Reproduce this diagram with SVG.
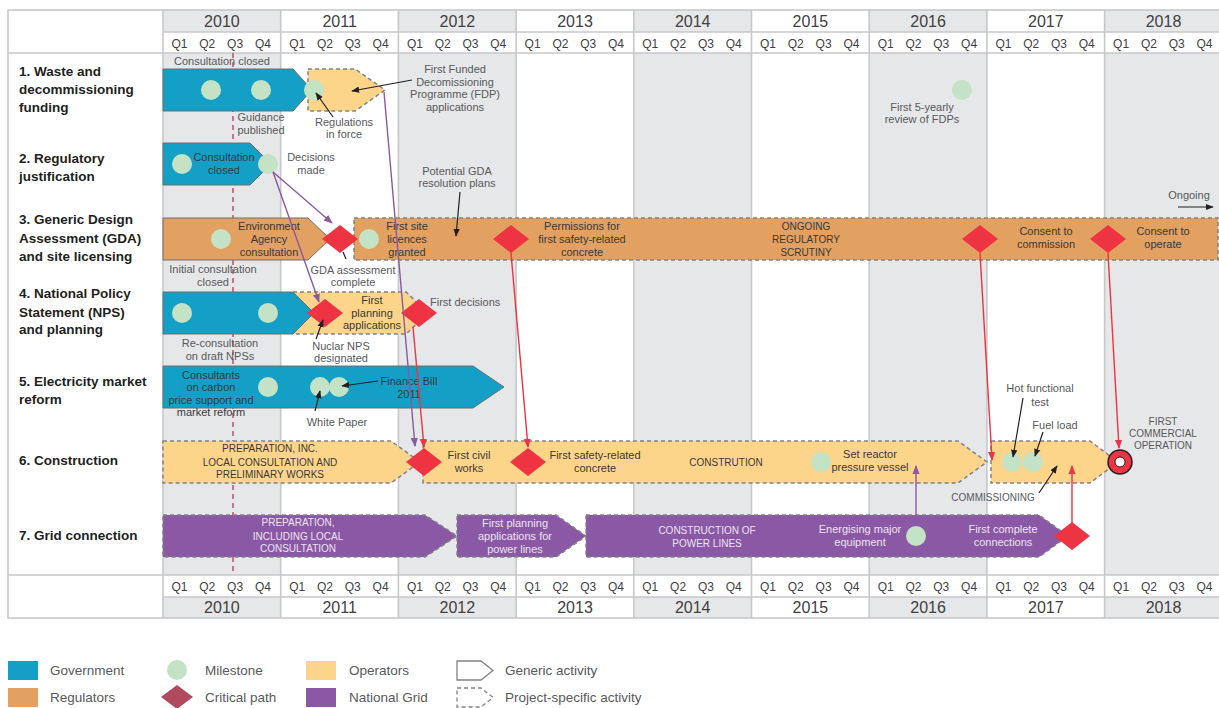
<svg xmlns="http://www.w3.org/2000/svg" width="1219" height="708" viewBox="0 0 1219 708">
<defs>
<style>
text{font-family:"Liberation Sans",Arial,sans-serif}
.yr{font-size:16px;fill:#414042;text-anchor:middle}
.q{font-size:12px;fill:#414042;text-anchor:middle}
.rl{font-size:13.5px;font-weight:bold;fill:#231f20}
.t{font-size:11px;fill:#58595b;text-anchor:middle}
.st{text-anchor:start}
.d{fill:#3a3839}
.l{fill:#ece3f2}
.u{font-size:10px}
.lg{font-size:13.5px;fill:#58595b}
.gov{fill:#14a0c6;stroke:#6d6e71;stroke-width:1}
.regs{fill:#e2a061;stroke:#6d6e71;stroke-width:1}
.reg{fill:#e2a061}
.ops{fill:#fdd58a}
.ng{fill:#8a58a4}
.dash{stroke:#808285;stroke-width:1.5;stroke-dasharray:4 3}
.ms{fill:#c4e2c5}
.cp{fill:#ee3342}
.grid{stroke:#c7c8ca;stroke-width:1.6;fill:none}
.ak{stroke:#231f20;stroke-width:1.2;fill:none;marker-end:url(#ak)}
.ap{stroke:#8a58a4;stroke-width:1.4;fill:none;marker-end:url(#ap)}
.ar{stroke:#ee3342;stroke-width:1.4;fill:none;marker-end:url(#ar)}
</style>
<marker id="ak" viewBox="0 0 10 10" refX="9" refY="5" markerWidth="8" markerHeight="8" orient="auto" markerUnits="userSpaceOnUse"><path d="M0,1 L10,5 L0,9 z" fill="#231f20"/></marker>
<marker id="ap" viewBox="0 0 10 10" refX="9" refY="5" markerWidth="9" markerHeight="9" orient="auto" markerUnits="userSpaceOnUse"><path d="M0,1 L10,5 L0,9 z" fill="#8a58a4"/></marker>
<marker id="ar" viewBox="0 0 10 10" refX="9" refY="5" markerWidth="9" markerHeight="9" orient="auto" markerUnits="userSpaceOnUse"><path d="M0,1 L10,5 L0,9 z" fill="#ee3342"/></marker>
</defs>
<rect width="1219" height="708" fill="#fff"/>

<g id="grid">
<rect x="163" y="10" width="117.7" height="608" fill="#e6e7e8"/>
<rect x="398.4" y="10" width="117.7" height="608" fill="#e6e7e8"/>
<rect x="633.8" y="10" width="117.7" height="608" fill="#e6e7e8"/>
<rect x="869.2" y="10" width="117.7" height="608" fill="#e6e7e8"/>
<rect x="1104.6" y="10" width="117.7" height="608" fill="#e6e7e8"/>
<rect x="163" y="32" width="1060" height="21" fill="#fff"/>
<rect x="163" y="575" width="1060" height="22" fill="#fff"/>
<rect x="8" y="10" width="1214" height="608" class="grid"/>
<path class="grid" d="M163,10V618M280.7,10V618M398.4,10V618M516.1,10V618M633.8,10V618M751.5,10V618M869.2,10V618M986.9,10V618M1104.6,10V618M163,32H1222M8,53H1222M8,575H1222M163,597H1222"/>
<line x1="233" y1="53" x2="233" y2="575" stroke="#c0506a" stroke-width="1.5" stroke-dasharray="5 4"/>
</g>

<g id="years">
<text class="yr" y="27"><tspan x="221.9">2010</tspan><tspan x="339.6">2011</tspan><tspan x="457.3">2012</tspan><tspan x="575">2013</tspan><tspan x="692.7">2014</tspan><tspan x="810.4">2015</tspan><tspan x="928.1">2016</tspan><tspan x="1045.8">2017</tspan><tspan x="1163.5">2018</tspan></text>
<text class="yr" y="613"><tspan x="221.9">2010</tspan><tspan x="339.6">2011</tspan><tspan x="457.3">2012</tspan><tspan x="575">2013</tspan><tspan x="692.7">2014</tspan><tspan x="810.4">2015</tspan><tspan x="928.1">2016</tspan><tspan x="1045.8">2017</tspan><tspan x="1163.5">2018</tspan></text>
<text class="q" y="47.5"><tspan x="179.5">Q1</tspan><tspan x="207.3">Q2</tspan><tspan x="235.1">Q3</tspan><tspan x="262.9">Q4</tspan><tspan x="297.2">Q1</tspan><tspan x="325">Q2</tspan><tspan x="352.8">Q3</tspan><tspan x="380.6">Q4</tspan><tspan x="414.9">Q1</tspan><tspan x="442.7">Q2</tspan><tspan x="470.5">Q3</tspan><tspan x="498.3">Q4</tspan><tspan x="532.6">Q1</tspan><tspan x="560.4">Q2</tspan><tspan x="588.2">Q3</tspan><tspan x="616">Q4</tspan><tspan x="650.3">Q1</tspan><tspan x="678.1">Q2</tspan><tspan x="705.9">Q3</tspan><tspan x="733.7">Q4</tspan><tspan x="768">Q1</tspan><tspan x="795.8">Q2</tspan><tspan x="823.6">Q3</tspan><tspan x="851.4">Q4</tspan><tspan x="885.7">Q1</tspan><tspan x="913.5">Q2</tspan><tspan x="941.3">Q3</tspan><tspan x="969.1">Q4</tspan><tspan x="1003.4">Q1</tspan><tspan x="1031.2">Q2</tspan><tspan x="1059">Q3</tspan><tspan x="1086.8">Q4</tspan><tspan x="1121.1">Q1</tspan><tspan x="1148.9">Q2</tspan><tspan x="1176.7">Q3</tspan><tspan x="1204.5">Q4</tspan></text>
<text class="q" y="590.5"><tspan x="179.5">Q1</tspan><tspan x="207.3">Q2</tspan><tspan x="235.1">Q3</tspan><tspan x="262.9">Q4</tspan><tspan x="297.2">Q1</tspan><tspan x="325">Q2</tspan><tspan x="352.8">Q3</tspan><tspan x="380.6">Q4</tspan><tspan x="414.9">Q1</tspan><tspan x="442.7">Q2</tspan><tspan x="470.5">Q3</tspan><tspan x="498.3">Q4</tspan><tspan x="532.6">Q1</tspan><tspan x="560.4">Q2</tspan><tspan x="588.2">Q3</tspan><tspan x="616">Q4</tspan><tspan x="650.3">Q1</tspan><tspan x="678.1">Q2</tspan><tspan x="705.9">Q3</tspan><tspan x="733.7">Q4</tspan><tspan x="768">Q1</tspan><tspan x="795.8">Q2</tspan><tspan x="823.6">Q3</tspan><tspan x="851.4">Q4</tspan><tspan x="885.7">Q1</tspan><tspan x="913.5">Q2</tspan><tspan x="941.3">Q3</tspan><tspan x="969.1">Q4</tspan><tspan x="1003.4">Q1</tspan><tspan x="1031.2">Q2</tspan><tspan x="1059">Q3</tspan><tspan x="1086.8">Q4</tspan><tspan x="1121.1">Q1</tspan><tspan x="1148.9">Q2</tspan><tspan x="1176.7">Q3</tspan><tspan x="1204.5">Q4</tspan></text>
</g>

<g id="row-labels">
<text class="rl"><tspan x="19" y="76">1. Waste and</tspan><tspan x="19" y="94">decommissioning</tspan><tspan x="19" y="112">funding</tspan></text>
<text class="rl"><tspan x="19" y="163">2. Regulatory</tspan><tspan x="19" y="181">justification</tspan></text>
<text class="rl"><tspan x="19" y="224">3. Generic Design</tspan><tspan x="19" y="243">Assessment (GDA)</tspan><tspan x="19" y="261">and site licensing</tspan></text>
<text class="rl"><tspan x="19" y="298">4. National Policy</tspan><tspan x="19" y="317">Statement (NPS)</tspan><tspan x="19" y="334">and planning</tspan></text>
<text class="rl"><tspan x="19" y="386">5. Electricity market</tspan><tspan x="19" y="404">reform</tspan></text>
<text class="rl" x="19" y="465">6. Construction</text>
<text class="rl" x="19" y="540">7. Grid connection</text>
</g>

<!-- Row 1 -->
<g id="r1-fdp-operators">
<path class="ops dash" d="M308,69H355L385,90L355,111H308Z"/>
</g>
<g id="r1-government">
<path class="gov" d="M163,69H293L312,90L293,111H163Z"/>
<text class="t" x="222" y="65">Consultation closed</text>
<text class="t"><tspan x="261" y="121">Guidance</tspan><tspan x="261" y="134">published</tspan></text>
</g>
<g id="r1-m1"><circle class="ms" cx="211" cy="90" r="10"/></g>
<g id="r1-m2"><circle class="ms" cx="261" cy="90" r="10"/></g>
<g id="r1-regulations"><circle class="ms" cx="314" cy="90" r="10"/>
<text class="t"><tspan x="344" y="126">Regulations</tspan><tspan x="344" y="138">in force</tspan></text></g>
<g id="r1-fdp-label"><text class="t"><tspan x="455" y="73">First Funded</tspan><tspan x="455" y="86">Decomissioning</tspan><tspan x="455" y="98">Programme (FDP)</tspan><tspan x="455" y="111">applications</tspan></text></g>
<g id="r1-review"><circle class="ms" cx="962" cy="90" r="10"/>
<text class="t"><tspan x="922" y="111">First 5-yearly</tspan><tspan x="922" y="123">review of FDPs</tspan></text></g>

<!-- Row 2 -->
<g id="r2-government">
<path class="gov" d="M163,143H250L271,164L250,185H163Z"/>
<circle class="ms" cx="182" cy="164" r="10"/>
<text class="t d"><tspan x="224" y="161">Consultation</tspan><tspan x="224" y="174">closed</tspan></text>
</g>
<g id="r2-decisions"><circle class="ms" cx="268" cy="164" r="10"/>
<text class="t"><tspan x="311" y="161">Decisions</tspan><tspan x="311" y="174">made</tspan></text></g>

<!-- Row 3 -->
<g id="r3-regulators">
<path class="regs" d="M163,218H308L330,239L308,260H163Z"/>
<circle class="ms" cx="221" cy="239" r="10"/>
<text class="t d"><tspan x="269" y="230">Environment</tspan><tspan x="269" y="243">Agency</tspan><tspan x="269" y="256">consultation</tspan></text>
<text class="t"><tspan x="213" y="273">Initial consultation</tspan><tspan x="213" y="286">closed</tspan></text>
</g>
<g id="r3-scrutiny">
<rect class="reg dash" x="354" y="218" width="864" height="42"/>
<text class="t d u"><tspan x="806" y="230">ONGOING</tspan><tspan x="806" y="243">REGULATORY</tspan><tspan x="806" y="256">SCRUTINY</tspan></text>
<text class="t"><tspan x="457" y="175">Potential GDA</tspan><tspan x="457" y="187">resolution plans</tspan></text>
<text class="t" x="1189" y="199">Ongoing</text>
</g>
<g id="r3-gda"><path class="cp" d="M340,225L358,239L340,253L322,239Z"/>
<text class="t"><tspan x="353" y="274">GDA assessment</tspan><tspan x="353" y="286">complete</tspan></text></g>
<g id="r3-licences"><circle class="ms" cx="369" cy="239" r="10"/>
<text class="t d"><tspan x="407" y="230">First site</tspan><tspan x="407" y="243">licences</tspan><tspan x="407" y="256">granted</tspan></text></g>
<g id="r3-permissions"><path class="cp" d="M511,225L529,239L511,253L493,239Z"/>
<text class="t d"><tspan x="582" y="230">Permissions for</tspan><tspan x="582" y="243">first safety-related</tspan><tspan x="582" y="256">concrete</tspan></text></g>
<g id="r3-commission"><path class="cp" d="M980,225L998,239L980,253L962,239Z"/>
<text class="t d"><tspan x="1046" y="235">Consent to</tspan><tspan x="1046" y="248">commission</tspan></text></g>
<g id="r3-operate"><path class="cp" d="M1108,225L1126,239L1108,253L1090,239Z"/>
<text class="t d"><tspan x="1163" y="235">Consent to</tspan><tspan x="1163" y="248">operate</tspan></text></g>

<!-- Row 4 -->
<g id="r4-operators">
<path class="ops dash" d="M293,292H406L428,313L406,334H293Z"/>
<text class="t d"><tspan x="372" y="304">First</tspan><tspan x="372" y="317">planning</tspan><tspan x="372" y="329">applications</tspan></text>
</g>
<g id="r4-government">
<path class="gov" d="M163,292H293L314,313L293,334H163Z"/>
<circle class="ms" cx="182" cy="313" r="10"/>
<circle class="ms" cx="268" cy="313" r="10"/>
<text class="t"><tspan x="220" y="347">Re-consultation</tspan><tspan x="220" y="360">on draft NPSs</tspan></text>
</g>
<g id="r4-nps"><path class="cp" d="M325,299L343,313L325,327L307,313Z"/>
<text class="t"><tspan x="341" y="350">Nuclar NPS</tspan><tspan x="341" y="362">designated</tspan></text></g>
<g id="r4-decisions"><path class="cp" d="M419,299L437,313L419,327L401,313Z"/>
<text class="t st" x="430" y="306">First decisions</text></g>

<!-- Row 5 -->
<g id="r5-government">
<path class="gov" d="M163,366H473L504,387L473,408H163Z"/>
<text class="t d"><tspan x="211" y="379">Consultants</tspan><tspan x="211" y="391">on carbon</tspan><tspan x="211" y="404">price support and</tspan><tspan x="211" y="416">market reform</tspan></text>
<circle class="ms" cx="268" cy="387" r="10"/>
</g>
<g id="r5-whitepaper"><circle class="ms" cx="320" cy="387" r="10"/>
<text class="t" x="337" y="426">White Paper</text></g>
<g id="r5-financebill"><circle class="ms" cx="339" cy="387" r="10"/>
<text class="t d"><tspan x="409" y="385">Finance Bill</tspan><tspan x="409" y="398">2011</tspan></text></g>

<!-- Row 6 -->
<g id="r6-preparation">
<path class="ops dash" d="M163,441H391L420,462L391,483H163Z"/>
<text class="t d u"><tspan x="270" y="452">PREPARATION, INC.</tspan><tspan x="270" y="466">LOCAL CONSULTATION AND</tspan><tspan x="270" y="478">PRELIMINARY WORKS</tspan></text>
</g>
<g id="r6-construction">
<path class="ops dash" d="M423,441H958L987,462L958,483H423Z"/>
<text class="t d u" x="726" y="466">CONSTRUTION</text>
</g>
<g id="r6-civil"><path class="cp" d="M424,448L442,462L424,476L406,462Z"/>
<text class="t d"><tspan x="469" y="459">First civil</tspan><tspan x="469" y="472">works</tspan></text></g>
<g id="r6-concrete"><path class="cp" d="M528,448L546,462L528,476L510,462Z"/>
<text class="t d"><tspan x="595" y="459">First safety-related</tspan><tspan x="595" y="472">concrete</tspan></text></g>
<g id="r6-vessel"><circle class="ms" cx="821" cy="462" r="10"/>
<text class="t d"><tspan x="870" y="458">Set reactor</tspan><tspan x="870" y="471">pressure vessel</tspan></text></g>
<g id="r6-commissioning">
<path class="ops dash" d="M991,441H1090L1118,462L1090,483H991Z"/>
<text class="t u" x="993" y="501">COMMISSIONING</text>
</g>
<g id="r6-hot"><circle class="ms" cx="1012" cy="462" r="10"/>
<text class="t"><tspan x="1040" y="392">Hot functional</tspan><tspan x="1040" y="406">test</tspan></text></g>
<g id="r6-fuel"><circle class="ms" cx="1033" cy="462" r="10"/>
<text class="t" x="1055" y="429">Fuel load</text></g>
<g id="r6-operation">
<circle cx="1120" cy="462" r="12" fill="#ee3342" stroke="#231f20" stroke-width="1.5"/>
<circle cx="1120" cy="462" r="5" fill="#fff" stroke="#231f20" stroke-width="1"/>
<text class="t u"><tspan x="1163" y="425">FIRST</tspan><tspan x="1163" y="437">COMMERCIAL</tspan><tspan x="1163" y="449">OPERATION</tspan></text>
</g>

<!-- Row 7 -->
<g id="r7-preparation">
<path class="ng dash" d="M163,515H425L457,536L425,557H163Z"/>
<text class="t l u"><tspan x="298" y="526">PREPARATION,</tspan><tspan x="298" y="540">INCLUDING LOCAL</tspan><tspan x="298" y="552">CONSULTATION</tspan></text>
</g>
<g id="r7-planning">
<path class="ng dash" d="M457,515H556L586,536L556,557H457Z"/>
<text class="t l"><tspan x="515" y="527">First planning</tspan><tspan x="515" y="540">applications for</tspan><tspan x="515" y="553">power lines</tspan></text>
</g>
<g id="r7-powerlines">
<path class="ng dash" d="M586,515H1039L1068,536L1039,557H586Z"/>
<text class="t l u"><tspan x="707" y="534">CONSTRUCTION OF</tspan><tspan x="707" y="547">POWER LINES</tspan></text>
<text class="t l"><tspan x="860" y="533">Energising major</tspan><tspan x="860" y="546">equipment</tspan></text>
<text class="t l"><tspan x="1003" y="533">First complete</tspan><tspan x="1003" y="546">connections</tspan></text>
</g>
<g id="r7-energising"><circle class="ms" cx="916" cy="536" r="10"/></g>
<g id="r7-connections"><path class="cp" d="M1072,522L1090,536L1072,550L1054,536Z"/></g>

<g id="connectors">
<line class="ak" x1="333" y1="117" x2="316" y2="93"/>
<line class="ak" x1="412" y1="80" x2="352" y2="91"/>
<line class="ak" x1="460" y1="192" x2="456" y2="236"/>
<line x1="346" y1="259" x2="343" y2="252" stroke="#231f20" stroke-width="1.2"/>
<line class="ak" x1="316" y1="339" x2="323" y2="320"/>
<line class="ak" x1="378" y1="381" x2="342" y2="386"/>
<line class="ak" x1="315" y1="411" x2="320" y2="391"/>
<line class="ak" x1="1023" y1="398" x2="1013" y2="457"/>
<line class="ak" x1="1043" y1="432" x2="1035" y2="456"/>
<line class="ak" x1="1039" y1="493" x2="1057" y2="466"/>
<line class="ak" x1="1178" y1="207" x2="1213" y2="207"/>
<line class="ap" x1="273" y1="172" x2="332" y2="223"/>
<line class="ap" x1="273" y1="172" x2="319" y2="302"/>
<line class="ap" x1="384" y1="92" x2="415" y2="446"/>
<line class="ap" x1="916" y1="526" x2="916" y2="466"/>
<line class="ar" x1="413" y1="327" x2="424" y2="447"/>
<line class="ar" x1="511" y1="253" x2="528" y2="447"/>
<line class="ar" x1="980" y1="253" x2="992" y2="460"/>
<line class="ar" x1="1108" y1="253" x2="1119" y2="448"/>
<line class="ar" x1="1072" y1="523" x2="1072" y2="466"/>
</g>

<g id="legend">
<rect x="8" y="661" width="30" height="19" fill="#14a0c6"/>
<text class="lg" x="50" y="675">Government</text>
<rect x="8" y="688" width="30" height="19" fill="#e2a061"/>
<text class="lg" x="50" y="702">Regulators</text>
<circle class="ms" cx="177" cy="670" r="10"/>
<text class="lg" x="205" y="675">Milestone</text>
<path d="M177,685L193,697L177,709L161,697Z" fill="#b04a5e"/>
<text class="lg" x="205" y="702">Critical path</text>
<rect x="306" y="661" width="30" height="19" fill="#fdd58a"/>
<text class="lg" x="349" y="675">Operators</text>
<rect x="306" y="688" width="30" height="19" fill="#8a58a4"/>
<text class="lg" x="349" y="702">National Grid</text>
<path d="M457,661H481L493,670.5L481,680H457Z" fill="#fff" stroke="#808285" stroke-width="1.3"/>
<text class="lg" x="505" y="675">Generic activity</text>
<path d="M457,688H481L493,697.5L481,707H457Z" fill="#fff" stroke="#808285" stroke-width="1.3" stroke-dasharray="4 3"/>
<text class="lg" x="505" y="702">Project-specific activity</text>
</g>
</svg>
